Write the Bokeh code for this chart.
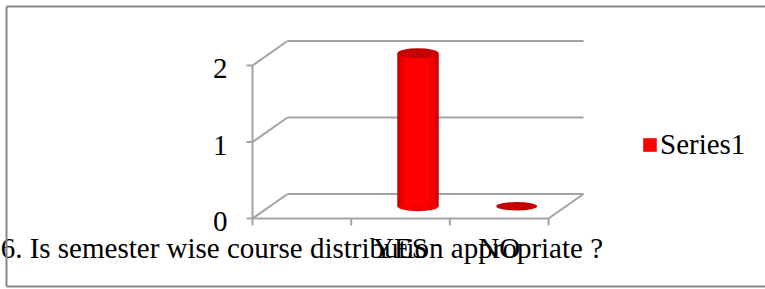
from bokeh.plotting import figure
from bokeh.models import Range1d, Legend, LegendItem, ColumnDataSource
from bokeh.core.properties import value
from bokeh.embed import file_html
from bokeh.resources import INLINE

# ---- data ----
categories = ["6. Is semester wise course distribution appropriate ?", "YES", "NO"]
series1 = [None, 2, 0]
y_ticks = [0, 1, 2]
series_name = "Series1"

# ---- geometry / style ----
W, H = 765, 289
X0_PX, X_UNIT = 252, 98.67     # pixel position of x=0 and pixels per category
Y0_PX, Y_UNIT = 218, 76.5      # pixel position of y=0 (from top) and pixels per unit
x_start = -X0_PX / X_UNIT
x_end = (W - X0_PX) / X_UNIT
y_end = Y0_PX / Y_UNIT
y_start = -(H - Y0_PX) / Y_UNIT


def px_x(px):
    return (px - X0_PX) / X_UNIT


def px_y(py):
    return (Y0_PX - py) / Y_UNIT


DX = 35 / X_UNIT      # depth offset (3D look)
DY = 24.5 / Y_UNIT
BW = 41 / X_UNIT      # cylinder width
EH = 10 / Y_UNIT      # ellipse height
TICK_X = 6 / X_UNIT
TICK_Y = 7 / Y_UNIT
GRID = "#a3a3a3"
FONT = value("Liberation Serif")
n = len(categories)

p = figure(width=W, height=H, x_range=Range1d(x_start, x_end), y_range=Range1d(y_start, y_end),
           output_backend="svg", toolbar_location=None, x_axis_location=None, y_axis_location=None,
           min_border=0, outline_line_color=None)
p.grid.visible = False
p.background_fill_color = "white"
p.border_fill_color = "white"

lo, hi = min(y_ticks), max(y_ticks)
m = len(y_ticks)
# back wall gridlines
p.segment(x0=[DX] * m, y0=[t + DY for t in y_ticks], x1=[n + DX] * m, y1=[t + DY for t in y_ticks],
          line_color=GRID, line_width=2)
# side wall diagonals
p.segment(x0=[0] * m, y0=y_ticks, x1=[DX] * m, y1=[t + DY for t in y_ticks], line_color=GRID, line_width=2)
# front value axis
p.segment(x0=[0], y0=[lo], x1=[0], y1=[hi], line_color=GRID, line_width=2)
# value axis ticks
p.segment(x0=[-TICK_X] * m, y0=y_ticks, x1=[0] * m, y1=y_ticks, line_color=GRID, line_width=2)
# floor front edge and right edge
p.segment(x0=[0, n], y0=[lo, lo], x1=[n, n + DX], y1=[lo, lo + DY], line_color=GRID, line_width=2)
# category ticks
p.segment(x0=list(range(n + 1)), y0=[lo] * (n + 1), x1=list(range(n + 1)), y1=[lo - TICK_Y] * (n + 1),
          line_color=GRID, line_width=2)

# ---- cylinders ----
cx, bot, top = [], [], []
flat_x = []
for i, v in enumerate(series1):
    if v is None:
        continue
    c = i + 0.5 + DX / 2
    if v > 0:
        cx.append(c)
        bot.append(DY / 2)
        top.append(v + DY / 2)
    else:
        flat_x.append(c)

src = ColumnDataSource(dict(x=cx, left=[c - BW / 2 for c in cx], right=[c + BW / 2 for c in cx],
                            bottom=bot, top=top))
p.ellipse(x="x", y="bottom", width=BW, height=EH, source=src, fill_color="#f20000", line_color=None)
main = p.quad(left="left", right="right", bottom="bottom", top="top", source=src,
              fill_color="#ff0000", line_color=None)
# shading strips across the cylinder
shade = [(0.0, 0.07, "#c80000"), (0.07, 0.16, "#e60000"), (0.78, 0.9, "#f00000"), (0.9, 1.0, "#d40000")]
for f0, f1, col in shade:
    p.quad(left=[c - BW / 2 + f0 * BW for c in cx], right=[c - BW / 2 + f1 * BW for c in cx],
           bottom=bot, top=top, fill_color=col, line_color=None)
p.ellipse(x="x", y="top", width=BW, height=EH, source=src, fill_color="#c40000", line_color=None)
p.ellipse(x=flat_x, y=[DY / 2] * len(flat_x), width=BW, height=EH * 0.85, fill_color="#c40000",
          line_color=None)

# ---- labels ----
p.text(x=[i + 0.5 for i in range(n)], y=[lo] * n, text=categories, text_align="center",
       text_baseline="alphabetic", y_offset=29, text_font=FONT, text_font_size="29px", text_color="black")
p.text(x=[0] * m, y=y_ticks, text=[str(t) for t in y_ticks], text_align="right", text_baseline="alphabetic",
       x_offset=-25, y_offset=3, text_font=FONT, text_font_size="29px", text_color="black")

legend = Legend(items=[LegendItem(label=series_name, renderers=[main])], location=(641, 128),
                glyph_width=17, glyph_height=17, label_text_font="Liberation Serif", label_text_font_size="29px",
                label_text_color="black", label_standoff=2, padding=0, margin=0, border_line_color=None,
                background_fill_alpha=0)
p.add_layout(legend)

# chart-area border (left, top, bottom; right edge lies outside the picture)
bl, bt, bb, br = px_x(6), px_y(6), px_y(286), px_x(800)
p.segment(x0=[bl, bl, bl], y0=[bt, bt, bb], x1=[bl, br, br], y1=[bb, bt, bb], line_color="#878787",
          line_width=2)

open("out.html", "w").write(file_html(p, INLINE))
